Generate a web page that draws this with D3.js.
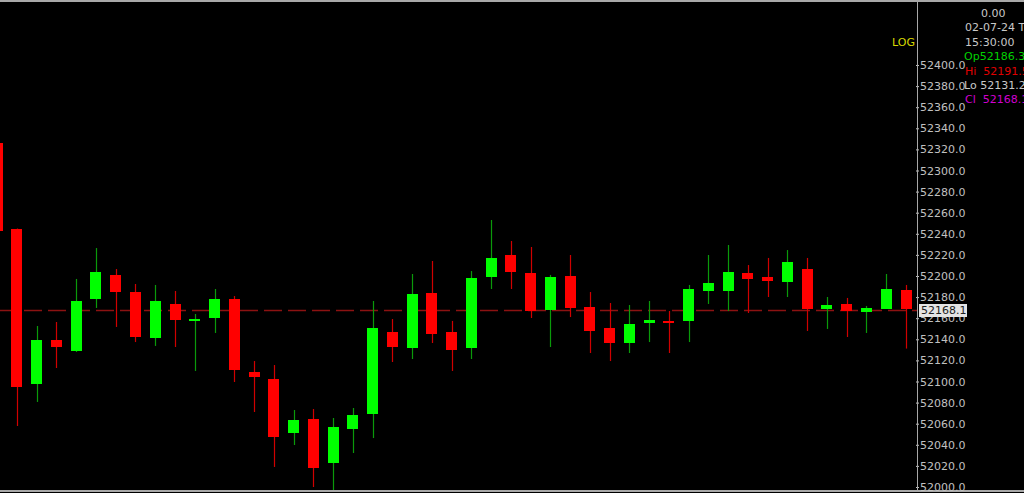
<!DOCTYPE html>
<html>
<head>
<meta charset="utf-8">
<script src="https://cdn.jsdelivr.net/npm/d3@7"></script>
<style>
  html, body { margin: 0; padding: 0; background: #000; overflow: hidden; }
  svg { display: block; }
  text { font-family: "DejaVu Sans", sans-serif; font-size: 11px; }
</style>
</head>
<body>
<svg id="chart" width="1024" height="493"></svg>
<script>
// Candle data (leftmost candle is partly off screen)
const opens = [52326.1, 52244.6, 52097.6, 52139.3, 52128.9, 52178.2, 52201.0, 52184.8, 52141.2, 52173.5,
  52157.8, 52160.2, 52178.2, 52109.0, 52102.4, 52051.2, 52064.5, 52022.7, 52055.0, 52069.2,
  52146.9, 52131.8, 52183.9, 52146.9, 52131.8, 52199.1, 52219.9, 52202.9, 52167.8, 52200.0,
  52170.6, 52150.7, 52136.5, 52155.5, 52157.4, 52157.4, 52185.8, 52185.8, 52202.9, 52199.1,
  52194.3, 52206.6, 52168.7, 52173.5, 52165.9, 52168.7, 52186.3];
const highs = [52328.0, 52245.0, 52152.6, 52156.4, 52197.2, 52226.5, 52206.6, 52192.4, 52191.5, 52185.8,
  52164.0, 52187.7, 52181.0, 52119.4, 52115.6, 52073.0, 52073.9, 52065.4, 52074.9, 52176.3,
  52159.2, 52201.9, 52214.2, 52157.4, 52204.7, 52253.1, 52233.2, 52227.5, 52201.0, 52219.9,
  52184.8, 52174.4, 52172.5, 52176.3, 52166.8, 52191.5, 52219.9, 52229.4, 52210.4, 52217.1,
  52224.6, 52217.1, 52180.1, 52179.2, 52171.6, 52201.9, 52191.5];
const lows = [52242.7, 52057.8, 52080.6, 52112.8, 52128.0, 52169.7, 52151.7, 52137.4, 52133.7, 52132.7,
  52110.0, 52146.0, 52099.5, 52071.1, 52019.0, 52039.8, 52000.0, 51995.3, 52032.2, 52046.4,
  52118.5, 52121.3, 52136.5, 52110.0, 52121.3, 52187.7, 52187.7, 52160.2, 52132.7, 52161.1,
  52127.0, 52119.4, 52127.0, 52137.4, 52127.0, 52137.4, 52173.5, 52166.8, 52164.9, 52180.1,
  52180.1, 52147.9, 52149.8, 52142.2, 52146.0, 52168.7, 52131.2];
const closes = [52242.7, 52094.8, 52139.3, 52132.7, 52176.3, 52203.8, 52184.8, 52142.2, 52176.3, 52158.3,
  52158.9, 52178.2, 52110.9, 52104.3, 52047.4, 52063.5, 52018.0, 52056.9, 52068.2, 52150.7,
  52132.7, 52182.9, 52145.0, 52129.9, 52198.1, 52217.1, 52203.8, 52166.8, 52199.1, 52169.7,
  52147.9, 52136.5, 52154.5, 52158.3, 52155.5, 52187.7, 52193.4, 52203.8, 52197.2, 52195.3,
  52213.3, 52168.7, 52172.5, 52166.8, 52169.7, 52187.7, 52168.1];

const priceTicks = [52000, 52020, 52040, 52060, 52080, 52100, 52120, 52140, 52160, 52180, 52200,
  52220, 52240, 52260, 52280, 52300, 52320, 52340, 52360, 52380, 52400];

const bid = 52168.1;
const infoLines = [
  { text: "0.00", color: "#c8c8c8", dx: 16 },
  { text: "02-07-24 T", color: "#c8c8c8", dx: 0 },
  { text: "15:30:00", color: "#c8c8c8", dx: 0 },
  { text: "Op52186.3", color: "#00d000", dx: -1 },
  { text: "Hi  52191.5", color: "#e00000", dx: 0 },
  { text: "Lo 52131.2", color: "#c8c8c8", dx: -1 },
  { text: "Cl  52168.1", color: "#d000d0", dx: 0 },
];

const W = 1024, H = 493;
const axisX = 917;

const svg = d3.select("#chart");
svg.append("rect").attr("width", W).attr("height", H).attr("fill", "#000");

const candles = opens.map((o, i) => ({ o, h: highs[i], l: lows[i], c: closes[i], i }));

const x = d3.scaleLinear().domain([0, candles.length - 1]).range([-2.8, 906]);
const y = d3.scaleLinear().domain([52000, 52400]).range([487, 65]);

// clip for plot area
svg.append("clipPath").attr("id", "plot")
  .append("rect").attr("x", 0).attr("y", 2).attr("width", axisX).attr("height", 489);

const plot = svg.append("g").attr("clip-path", "url(#plot)");

// bid line (dashed)
plot.append("line")
  .attr("x1", 0).attr("x2", axisX)
  .attr("y1", Math.round(y(bid)) + 0.5).attr("y2", Math.round(y(bid)) + 0.5)
  .attr("stroke", "#8c1212").attr("stroke-width", 1.5)
  .attr("stroke-dasharray", "18,6");

// wicks
plot.selectAll("line.wick").data(candles).join("line")
  .attr("class", "wick")
  .attr("x1", d => Math.round(x(d.i)) + 0.5)
  .attr("x2", d => Math.round(x(d.i)) + 0.5)
  .attr("y1", d => y(d.h))
  .attr("y2", d => y(d.l))
  .attr("stroke", d => d.c >= d.o ? "#0a9a0a" : "#d00000")
  .attr("stroke-width", 1.2);

// bodies
const bw = 11;
plot.selectAll("rect.body").data(candles).join("rect")
  .attr("class", "body")
  .attr("x", d => Math.round(x(d.i) - bw / 2))
  .attr("width", bw)
  .attr("y", d => Math.round(y(Math.max(d.o, d.c))))
  .attr("height", d => Math.max(2, Math.round(Math.abs(y(d.o) - y(d.c)))))
  .attr("fill", d => d.c >= d.o ? "#00ff00" : "#ff0000");

// borders
svg.append("rect").attr("x", 0).attr("y", 0).attr("width", W).attr("height", 2).attr("fill", "#a8a8a8");
svg.append("rect").attr("x", 0).attr("y", 490).attr("width", W).attr("height", 2).attr("fill", "#a8a8a8");

// right price axis
const axis = d3.axisRight(y).tickValues(priceTicks).tickSize(3).tickPadding(1)
  .tickFormat(d3.format(".1f"));
const ag = svg.append("g").attr("transform", `translate(${axisX - 1},0)`).call(axis);
ag.select(".domain").remove();
ag.selectAll(".tick line").attr("stroke", "#c0c0c0");
ag.selectAll(".tick text").attr("fill", "#c0c0c0")
  .style("font-family", "DejaVu Sans, sans-serif").style("font-size", "11px");
svg.append("line").attr("x1", axisX + 0.5).attr("x2", axisX + 0.5).attr("y1", 0).attr("y2", 491)
  .attr("stroke", "#a8a8a8").attr("stroke-width", 1);

// bid label
const by = Math.round(y(bid));
svg.append("rect").attr("x", 919).attr("y", by - 6).attr("width", 48).attr("height", 13)
  .attr("fill", "#e4e4e4");
svg.append("text").attr("x", 921).attr("y", by + 4).attr("fill", "#202020").text(d3.format(".1f")(bid));

// LOG label
svg.append("text").attr("x", 892).attr("y", 46).attr("fill", "#d8d800").text("LOG");

// info block
svg.selectAll("text.info").data(infoLines).join("text")
  .attr("class", "info")
  .attr("x", d => 965 + d.dx)
  .attr("y", (d, i) => 17 + i * 14.4)
  .attr("fill", d => d.color)
  .style("white-space", "pre")
  .attr("xml:space", "preserve")
  .text(d => d.text);
</script>
</body>
</html>
